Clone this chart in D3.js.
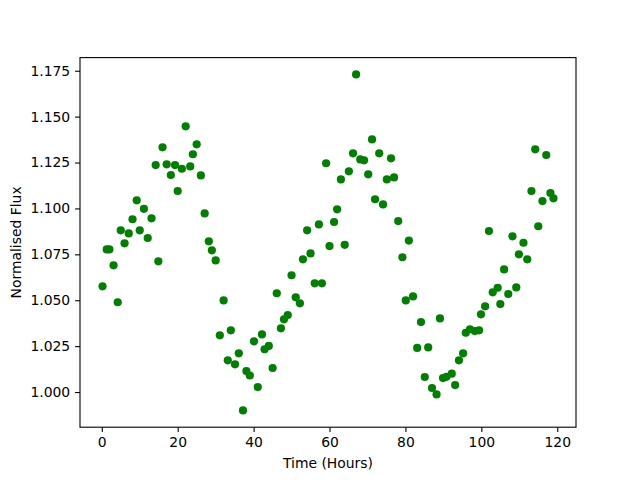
<!DOCTYPE html>
<html>
<head>
<meta charset="utf-8">
<script src="https://cdn.jsdelivr.net/npm/d3@7"></script>
<style>
  body { margin: 0; background: #fff; }
  text { font-family: "DejaVu Sans", sans-serif; fill: #000; }
  .tick text { font-size: 13.9px; }
  .axisLabel { font-size: 13.9px; }
</style>
</head>
<body>
<div id="chart"></div>
<script>
// time in hours
var hours = [0.2, 1.3, 2.0, 3.1, 4.2, 5.0, 6.0, 7.1, 8.1, 9.2,
  10.0, 11.1, 12.1, 13.1, 14.2, 14.9, 16.0, 17.1, 18.2, 19.3,
  20.0, 21.1, 22.1, 23.3, 24.0, 25.0, 26.1, 27.1, 28.2, 29.0,
  30.0, 31.1, 32.1, 33.2, 34.0, 35.1, 36.1, 37.2, 38.1, 39.0,
  40.1, 41.1, 42.2, 42.9, 44.0, 45.0, 46.1, 47.2, 48.0, 49.0,
  50.0, 51.1, 52.2, 53.0, 54.1, 55.0, 56.1, 57.2, 58.0, 59.1,
  60.0, 61.2, 62.0, 63.0, 64.0, 65.1, 66.2, 67.0, 68.1, 69.1,
  70.2, 71.2, 72.0, 73.1, 74.1, 75.1, 76.2, 77.0, 78.1, 79.2,
  80.1, 80.9, 82.0, 83.1, 84.1, 85.1, 86.0, 87.0, 88.2, 89.1,
  89.9, 90.8, 92.2, 93.1, 94.1, 95.2, 95.9, 97.0, 98.3, 99.4,
  99.9, 101.0, 102.0, 103.0, 104.3, 105.0, 106.0, 107.1, 108.2, 109.2,
  109.9, 111.1, 112.1, 113.2, 114.2, 115.0, 116.1, 117.1, 118.2, 119.0];

var flux = [1.0576, 1.0777, 1.0777, 1.0690, 1.0489, 1.0881, 1.0810, 1.0864, 1.0941, 1.1044,
  1.0881, 1.0998, 1.0839, 1.0946, 1.1236, 1.0712, 1.1333, 1.1240, 1.1182, 1.1236,
  1.1095, 1.1216, 1.1447, 1.1229, 1.1295, 1.1349, 1.1180, 1.0973, 1.0821, 1.0772,
  1.0717, 1.0309, 1.0499, 1.0173, 1.0336, 1.0151, 1.0211, 0.9900, 1.0114, 1.0090,
  1.0276, 1.0027, 1.0314, 1.0233, 1.0251, 1.0131, 1.0538, 1.0347, 1.0396, 1.0419,
  1.0636, 1.0516, 1.0483, 1.0723, 1.0881, 1.0755, 1.0592, 1.0913, 1.0592, 1.1246,
  1.0795, 1.0926, 1.0995, 1.1158, 1.0802, 1.1202, 1.1300, 1.1730, 1.1267, 1.1262,
  1.1186, 1.1376, 1.1050, 1.1300, 1.1022, 1.1158, 1.1273, 1.1169, 1.0931, 1.0734,
  1.0499, 1.0825, 1.0521, 1.0240, 1.0381, 1.0082, 1.0243, 1.0022, 0.9987, 1.0401,
  1.0076, 1.0083, 1.0100, 1.0038, 1.0173, 1.0211, 1.0323, 1.0342, 1.0332, 1.0336,
  1.0423, 1.0467, 1.0877, 1.0543, 1.0568, 1.0479, 1.0668, 1.0534, 1.0848, 1.0570,
  1.0750, 1.0813, 1.0723, 1.1095, 1.1322, 1.0903, 1.1040, 1.1291, 1.1084, 1.1055];

var xTicks = [0, 20, 40, 60, 80, 100, 120];
var yTicks = [1.000, 1.025, 1.050, 1.075, 1.100, 1.125, 1.150, 1.175];

var width = 640;
var height = 480;
var plotLeft = 80, plotRight = 576, plotTop = 57.6, plotBottom = 427.2;

// matplotlib style 5% padding around the data
function padded(values) {
  var ext = d3.extent(values);
  var pad = (ext[1] - ext[0]) * 0.05;
  return [ext[0] - pad, ext[1] + pad];
}

var x = d3.scaleLinear().domain(padded(hours)).range([plotLeft, plotRight]);
var y = d3.scaleLinear().domain(padded(flux)).range([plotBottom, plotTop]);

var svg = d3.select("#chart").append("svg")
  .attr("width", width)
  .attr("height", height);

svg.append("rect")
  .attr("width", width)
  .attr("height", height)
  .attr("fill", "#fff");

var points = hours.map(function(h, i) { return {t: h, f: flux[i]}; });

svg.append("g")
  .selectAll("circle")
  .data(points)
  .enter().append("circle")
    .attr("cx", function(d) { return x(d.t); })
    .attr("cy", function(d) { return y(d.f); })
    .attr("r", 4.1)
    .attr("fill", "#008000");

var xAxis = svg.append("g")
  .attr("transform", "translate(0," + plotBottom + ")")
  .call(d3.axisBottom(x).tickValues(xTicks).tickSize(4.9).tickPadding(4.9).tickFormat(d3.format("d")));

var yAxis = svg.append("g")
  .attr("transform", "translate(" + plotLeft + ",0)")
  .call(d3.axisLeft(y).tickValues(yTicks).tickSize(4.9).tickPadding(4.9).tickFormat(d3.format(".3f")));

xAxis.select(".domain").remove();
yAxis.select(".domain").remove();
svg.selectAll(".tick line").attr("stroke", "#000").attr("stroke-width", 1.1);
svg.selectAll("g").attr("font-family", null).attr("font-size", null);

// frame
svg.append("rect")
  .attr("x", plotLeft)
  .attr("y", plotTop)
  .attr("width", plotRight - plotLeft)
  .attr("height", plotBottom - plotTop)
  .attr("fill", "none")
  .attr("stroke", "#000")
  .attr("stroke-width", 1.1);

svg.append("text")
  .attr("class", "axisLabel")
  .attr("x", (plotLeft + plotRight) / 2)
  .attr("y", 468)
  .attr("text-anchor", "middle")
  .text("Time (Hours)");

svg.append("text")
  .attr("class", "axisLabel")
  .attr("transform", "translate(21," + (plotTop + plotBottom) / 2 + ") rotate(-90)")
  .attr("text-anchor", "middle")
  .text("Normalised Flux");
</script>
</body>
</html>
